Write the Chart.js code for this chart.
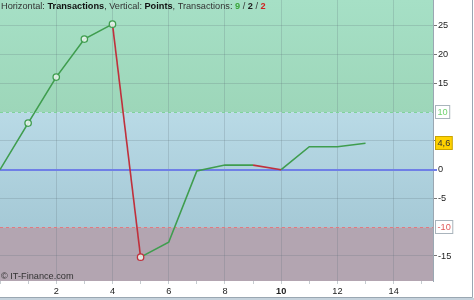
<!DOCTYPE html>
<html lang="en">
<head>
  <meta charset="UTF-8">
  <script src="https://cdn.jsdelivr.net/npm/chart.js"></script>
  <title>Transactions / Points</title>
  <style>
    html, body { margin: 0; padding: 0; background: #fff; }
    #wrap { width: 474px; height: 300px; position: relative; }
  </style>
</head>
<body>
  <div id="wrap"><canvas id="chart" width="474" height="300"></canvas></div>

<script>
  // trade number vs accumulated points
  const transactions = [0, 1, 2, 3, 4, 5, 6, 7, 8, 9, 10, 11, 12, 13]
  const points = [0, 8.1, 16.1, 22.7, 25.3, -15.2, -12.6, -0.2, 0.8, 0.8, 0, 4.0, 4.0, 4.6]
  const markedTrades = [1, 2, 3, 4, 5]
  const yTicks = [-15, -10, -5, 0, 5, 10, 15, 20, 25]
  const xTicks = [0, 1, 2, 3, 4, 5, 6, 7, 8, 9, 10, 11, 12, 13, 14, 15]
  const upperLevel = 10
  const lowerLevel = -10
  const counts = { up: 9, flat: 2, down: 2 }
  const lastLabel = '4,6'

  const GREEN = '#3f9d4e'
  const RED = '#c0303c'
  const FONT = '"Liberation Sans", Arial, sans-serif'
  const FS = 9.2

  const bands = {
    id: 'bands',
    beforeDraw(chart) {
      const { ctx, chartArea: a, scales: { y } } = chart
      ctx.save()
      ctx.fillStyle = '#fff'
      ctx.fillRect(0, 0, chart.width, chart.height)
      const yu = y.getPixelForValue(upperLevel)
      const yl = y.getPixelForValue(lowerLevel)
      let g = ctx.createLinearGradient(0, a.top, 0, yu)
      g.addColorStop(0, '#a6e0c6'); g.addColorStop(1, '#9dd6b9')
      ctx.fillStyle = g
      ctx.fillRect(a.left, a.top, a.width, yu - a.top)
      g = ctx.createLinearGradient(0, yu, 0, yl)
      g.addColorStop(0, '#b9dae6'); g.addColorStop(1, '#a5c9d6')
      ctx.fillStyle = g
      ctx.fillRect(a.left, yu, a.width, yl - yu)
      ctx.fillStyle = '#b3a5b1'
      ctx.fillRect(a.left, yl, a.width, a.bottom - yl)
      ctx.restore()
    },
    beforeDatasetsDraw(chart) {
      const { ctx, chartArea: a, scales: { y } } = chart
      ctx.save()
      ctx.lineWidth = 1
      ctx.setLineDash([3, 3])
      ctx.strokeStyle = '#7fd39a'
      let py = Math.round(y.getPixelForValue(upperLevel)) + 0.5
      ctx.beginPath(); ctx.moveTo(a.left, py); ctx.lineTo(a.right, py); ctx.stroke()
      ctx.strokeStyle = '#e07a80'
      py = Math.round(y.getPixelForValue(lowerLevel)) + 0.5
      ctx.beginPath(); ctx.moveTo(a.left, py); ctx.lineTo(a.right, py); ctx.stroke()
      ctx.setLineDash([])
      ctx.strokeStyle = '#6f7fe6'
      ctx.lineWidth = 2
      py = Math.round(y.getPixelForValue(0))
      ctx.beginPath(); ctx.moveTo(a.left, py); ctx.lineTo(a.right + 4, py); ctx.stroke()
      ctx.restore()
    },
    afterDraw(chart) {
      const { ctx, chartArea: a, scales: { y } } = chart
      ctx.save()
      // title
      ctx.textBaseline = 'middle'
      let x = 1
      const parts = [
        ['Horizontal: ', '#333', ''], ['Transactions', '#111', 'bold '],
        [', Vertical: ', '#333', ''], ['Points', '#111', 'bold '],
        [', Transactions: ', '#333', ''], [String(counts.up), '#3aa63a', 'bold '],
        [' / ', '#333', ''], [String(counts.flat), '#222', 'bold '],
        [' / ', '#333', ''], [String(counts.down), '#d02020', 'bold ']
      ]
      parts.forEach(([t, c, w]) => {
        ctx.font = w + FS + 'px ' + FONT
        ctx.fillStyle = c
        ctx.fillText(t, x, 6.5)
        x += ctx.measureText(t).width
      })
      ctx.font = FS + 'px ' + FONT
      ctx.fillStyle = '#333'
      ctx.fillText('\u00A9 IT-Finance.com', 1, 276)

      // boxed labels on the right axis
      const box = (val, text, fill, stroke, color) => {
        const py = Math.round(y.getPixelForValue(val))
        ctx.font = FS + 'px ' + FONT
        const w = ctx.measureText(text).width + 4
        ctx.fillStyle = fill
        ctx.fillRect(a.right + 2.5, py - 6.5, w, 13)
        ctx.strokeStyle = stroke
        ctx.lineWidth = 1
        ctx.strokeRect(a.right + 2.5, py - 6.5, w, 13)
        ctx.fillStyle = color
        ctx.textBaseline = 'middle'
        ctx.fillText(text, a.right + 4.5, py + 0.5)
      }
      box(upperLevel, String(upperLevel), '#fff', '#a9b4bc', '#6fd36f')
      box(lowerLevel, String(lowerLevel), '#fff', '#a9b4bc', '#e05a5a')
      box(points[points.length - 1], lastLabel, '#ffd200', '#c9a400', '#333')

      // outer frame
      ctx.strokeStyle = '#9aa7b2'
      ctx.lineWidth = 1
      ctx.beginPath()
      ctx.moveTo(472.5, 0); ctx.lineTo(472.5, 297.5); ctx.lineTo(0, 297.5)
      ctx.stroke()
      ctx.fillStyle = '#c5d2dc'
      ctx.fillRect(0, 298, 474, 2)
      ctx.restore()
    }
  }

  new Chart(document.getElementById('chart'), {
    type: 'line',
    data: {
      datasets: [{
        data: transactions.map((t, i) => ({ x: t, y: points[i] })),
        borderColor: GREEN,
        borderWidth: 1.6,
        tension: 0,
        segment: {
          borderColor: c => c.p1.parsed.y < c.p0.parsed.y ? RED : GREEN
        },
        pointRadius: c => markedTrades.includes(c.dataIndex) ? 3.2 : 0,
        pointBorderWidth: 1.3,
        pointBackgroundColor: 'rgba(235,245,240,0.85)',
        pointBorderColor: c => points[c.dataIndex] < 0 ? RED : GREEN
      }]
    },
    options: {
      responsive: false,
      animation: false,
      layout: { padding: 0 },
      plugins: { legend: { display: false }, tooltip: { enabled: false } },
      scales: {
        x: {
          type: 'linear',
          min: 0,
          max: 15.4,
          afterBuildTicks: s => { s.ticks = xTicks.map(v => ({ value: v })) },
          afterFit: s => { s.height = 19; s.paddingLeft = 0; s.paddingRight = 0 },
          border: { display: false },
          grid: {
            color: c => (c.tick && c.tick.value % 2 === 0 && c.tick.value > 0) ? 'rgba(90,110,120,0.22)' : 'transparent',
            tickColor: 'rgba(90,110,120,0.35)',
            tickLength: 3
          },
          ticks: {
            autoSkip: false,
            maxRotation: 0,
            padding: 2,
            color: '#222',
            font: c => ({ family: FONT, size: FS, weight: (c.tick && c.tick.value === 10) ? 'bold' : 'normal' }),
            callback: v => (v % 2 === 0 && v > 0) ? String(v) : ''
          }
        },
        y: {
          position: 'right',
          min: -19.35,
          max: 29.5,
          afterBuildTicks: s => { s.ticks = yTicks.map(v => ({ value: v })) },
          afterFit: s => { s.width = 41; s.paddingTop = 0; s.paddingBottom = 0 },
          border: { display: true, color: '#9aa7b2' },
          grid: {
            color: c => (c.tick && [0, upperLevel, lowerLevel].includes(c.tick.value)) ? 'transparent' : 'rgba(90,110,120,0.22)',
            tickColor: c => (c.tick && [0, upperLevel, lowerLevel].includes(c.tick.value)) ? 'transparent' : '#777',
            tickLength: 4
          },
          ticks: {
            autoSkip: false,
            padding: 1,
            color: '#222',
            font: { family: FONT, size: FS },
            callback: v => [5, upperLevel, lowerLevel].includes(v) ? '' : String(v)
          }
        }
      }
    },
    plugins: [bands]
  })
</script>
</body>
</html>
